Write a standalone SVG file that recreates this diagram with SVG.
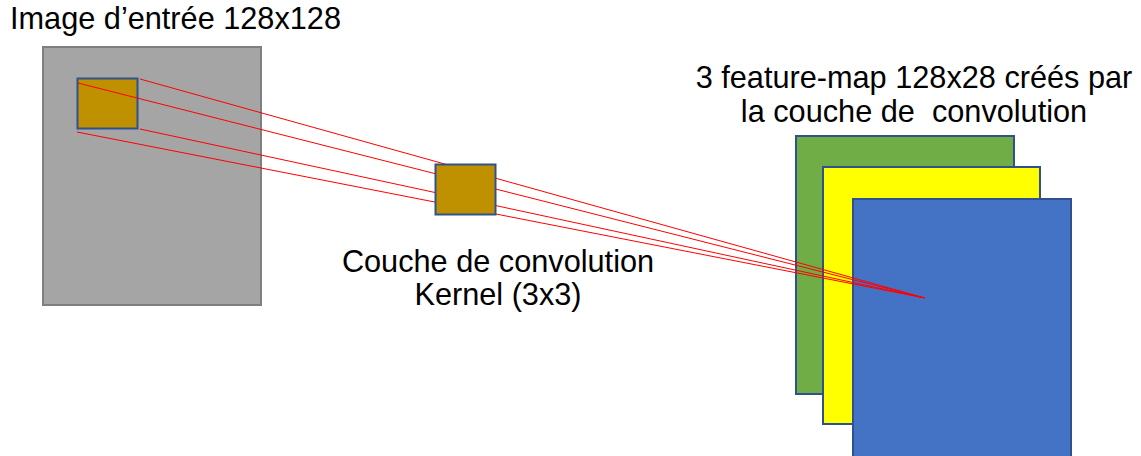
<svg xmlns="http://www.w3.org/2000/svg" width="1141" height="456" viewBox="0 0 1141 456">
<style>
text{font-family:"Liberation Sans",Arial,sans-serif;font-size:30.7px;fill:#000;white-space:pre}
.c{text-anchor:middle}
.ray{stroke:#FF0000;stroke-width:1;fill:none}
.blk{stroke:#2F528F;stroke-width:2}
</style>
<rect width="1141" height="456" fill="#FFFFFF"/>
<g id="input-image">
<rect x="43" y="47" width="218" height="258" fill="#A5A5A5" stroke="#7F7F7F" stroke-width="2"/>
<rect x="77.5" y="78.5" width="60" height="50" fill="#BF9000" class="blk"/>
<text x="10" y="29">Image d’entrée 128x128</text>
</g>
<g id="feature-maps">
<rect x="796" y="136" width="218" height="258" fill="#70AD47" class="blk"/>
<rect x="823" y="167" width="217" height="257" fill="#FFFF00" class="blk"/>
<rect x="853" y="199" width="218" height="262" fill="#4472C4" class="blk"/>
<text class="c" x="914" y="88">3 feature-map 128x28 créés par</text>
<text class="c" x="914" y="122">la couche de  convolution</text>
</g>
<g id="connectors">
<line class="ray" x1="140" y1="79" x2="925" y2="298"/>
<line class="ray" x1="78" y1="83" x2="925" y2="298"/>
<line class="ray" x1="140" y1="129" x2="925" y2="298"/>
<line class="ray" x1="77" y1="132" x2="925" y2="298"/>
</g>
<g id="kernel">
<rect x="435.5" y="164.5" width="60" height="50" fill="#BF9000" class="blk"/>
<text class="c" x="498" y="272">Couche de convolution</text>
<text class="c" x="498" y="305">Kernel (3x3)</text>
</g>
</svg>
